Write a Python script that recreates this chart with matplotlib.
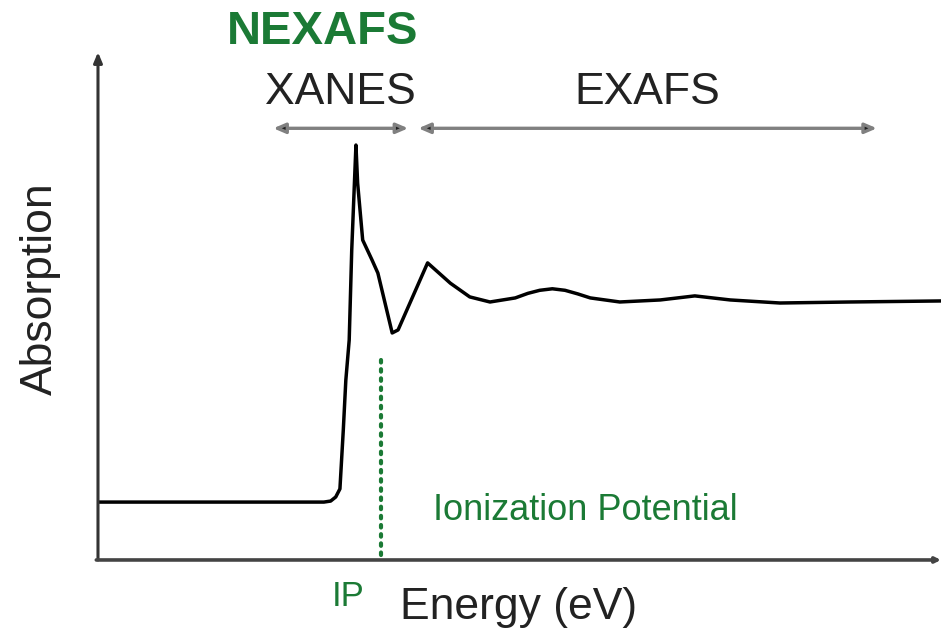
#!/usr/bin/env python
# coding:utf-8
"""plot.py - NEXAFS / XANES / EXAFS sketch"""

import matplotlib
matplotlib.use('Agg')
import matplotlib.pyplot as plt

# absorption curve (energy in arbitrary units, 0-100)
energy = [0, 26.8, 27.6, 28.2, 28.7, 29.1, 29.4, 29.8, 30.1, 30.6, 30.8,
          31.4, 32.5, 33.2, 34.9, 35.6, 39.1, 41.8, 44.1, 46.5, 49.5, 51.0,
          52.4, 53.9, 55.4, 56.9, 58.4, 61.9, 66.7, 70.8, 75.0, 80.9, 89.2,
          99.8]
absorption = [0.114, 0.114, 0.116, 0.124, 0.140, 0.256, 0.354, 0.433, 0.610,
              0.817, 0.742, 0.630, 0.591, 0.565, 0.447, 0.453, 0.585, 0.545,
              0.518, 0.508, 0.516, 0.525, 0.531, 0.534, 0.531, 0.524, 0.516,
              0.508, 0.512, 0.520, 0.512, 0.506, 0.508, 0.510]

# regions marked above the curve
region_names = ['XANES', 'EXAFS']
region_start = [20.8, 38.0]
region_end = [36.8, 92.4]

ip_energy = 33.6

GREEN = '#1b7a35'
DARK = '#222222'
FONT = ['Liberation Sans', 'DejaVu Sans']

fig = plt.figure(figsize=(9.44, 6.38), dpi=100)
ax = fig.add_axes([0.1038, 0.1223, 0.893, 0.796])
ax.set_xlim(0, 100)
ax.set_ylim(0, 1)
for side in ax.spines:
    ax.spines[side].set_visible(False)
ax.set_xticks([])
ax.set_yticks([])

# axes drawn as arrows
ax.annotate('', xy=(0, 1.0), xytext=(0, 0), xycoords='axes fraction',
            arrowprops=dict(arrowstyle='-|>,head_length=0.6,head_width=0.25',
                            color='#333333', lw=2.2, shrinkA=0, shrinkB=0))
ax.annotate('', xy=(1.0, 0), xytext=(-0.002, 0), xycoords='axes fraction',
            arrowprops=dict(arrowstyle='-|>,head_length=0.3,head_width=0.15',
                            color='#444444', lw=2.6, shrinkA=0, shrinkB=0))

ax.plot(energy, absorption, color='black', lw=2.5, solid_joinstyle='round')

# region arrows (grey shaft, dark heads) and labels
for name, x0, x1 in zip(region_names, region_start, region_end):
    ax.annotate('', xy=(x1, 0.85), xytext=(x0, 0.85),
                arrowprops=dict(arrowstyle='<|-|>,head_length=0.7,head_width=0.3',
                                ec='#808080', fc='#1e1e1e', lw=2.4,
                                shrinkA=0, shrinkB=0))
    ax.text((x0 + x1) / 2, 0.921, name, ha='center', va='center',
            fontsize=32, color=DARK, family=FONT)

# handwritten green notes
ax.plot([ip_energy, ip_energy], [0.01, 0.394], color=GREEN, lw=3,
        linestyle=(0, (0.6, 1.6)), dash_capstyle='round')
fig.text(323 / 944, 1 - 32 / 638, 'NEXAFS', ha='center', va='center',
         fontsize=34, fontweight='bold', color=GREEN, family=FONT)
fig.text(585 / 944, 1 - 510 / 638, 'Ionization Potential', ha='center',
         va='center', fontsize=26, color=GREEN, family=FONT)
fig.text(348 / 944, 1 - 596 / 638, 'IP', ha='center', va='center',
         fontsize=25, color=GREEN, family=FONT)

# axis titles
fig.text(40 / 944, 1 - 289 / 638, 'Absorption', rotation=90, ha='center',
         va='center', fontsize=32, color=DARK, family=FONT)
fig.text(519 / 944, 1 - 607 / 638, 'Energy (eV)', ha='center', va='center',
         fontsize=32, color=DARK, family=FONT)

fig.savefig('out.png', dpi=100)
plt.close(fig)
